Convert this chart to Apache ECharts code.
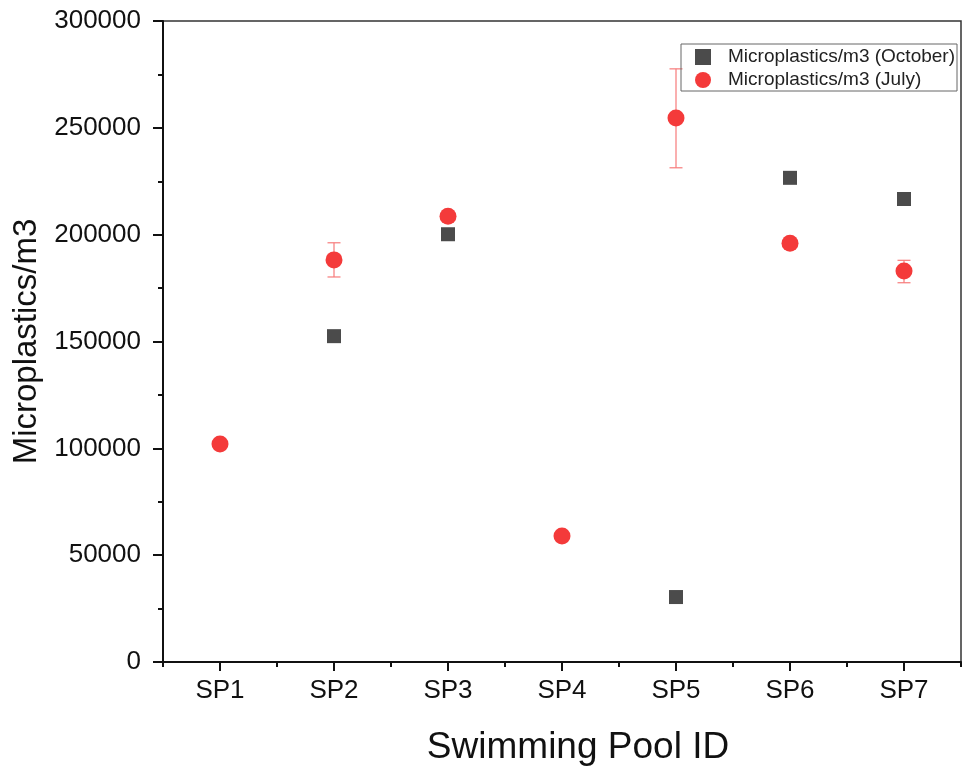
<!DOCTYPE html>
<html>
<head>
<meta charset="utf-8">
<script src="https://cdn.jsdelivr.net/npm/echarts@6/dist/echarts.min.js"></script>
<style>
  html, body { margin: 0; padding: 0; background: #fff; }
  #chart { width: 964px; height: 769px; }
</style>
</head>
<body>
<div id="chart"></div>
<script>
// Sampling sites
const pools = ['SP1', 'SP2', 'SP3', 'SP4', 'SP5', 'SP6', 'SP7'];

// Microplastic concentration per m3 (null = no October sample)
const october = [null, 152500, 200200, null, 30400, 226600, 216700];
const july = [102000, 188200, 208600, 59000, 254600, 196000, 183000];

// July spread: lower and upper error bar ends
const julyLow = [null, 180200, null, null, 231300, null, 177500];
const julyHigh = [null, 196200, null, null, 277600, null, 188000];

const yTicks = [0, 50000, 100000, 150000, 200000, 250000, 300000];

const octColor = '#4b4b4b';
const julColor = '#f43a3a';
const errColor = '#f77a7a';
const font = 'Liberation Sans, Arial, sans-serif';

const errData = [];
pools.forEach((p, i) => {
  if (julyLow[i] != null) errData.push([i, julyLow[i], julyHigh[i]]);
});

const chart = echarts.init(document.getElementById('chart'), null, { renderer: 'canvas' });

chart.setOption({
  animation: false,
  backgroundColor: '#fff',
  textStyle: { fontFamily: font },
  grid: {
    left: 163, right: 3, top: 21, bottom: 107,
    outerBoundsMode: 'none',
    containLabel: false,
    show: true, borderColor: '#333', borderWidth: 1.5, backgroundColor: 'transparent'
  },
  legend: {
    orient: 'vertical',
    right: 7, top: 44,
    itemGap: 3,
    itemWidth: 16, itemHeight: 16,
    padding: [3, 2, 1, 14],
    borderColor: '#666', borderWidth: 1,
    textStyle: { fontSize: 19, lineHeight: 20, color: '#222', fontFamily: font, padding: [0, 0, 0, 12] },
    data: [
      { name: 'Microplastics/m3 (October)', icon: 'rect', itemStyle: { color: octColor, opacity: 1 } },
      { name: 'Microplastics/m3 (July)', icon: 'circle', itemStyle: { color: julColor, opacity: 1 } }
    ]
  },
  xAxis: [
    {
      type: 'category',
      data: pools,
      boundaryGap: true,
      name: 'Swimming Pool ID',
      nameLocation: 'middle',
      nameGap: 67,
      nameTextStyle: { fontSize: 37, color: '#111', fontFamily: font, padding: [0, 0, 0, 32] },
      axisLine: { lineStyle: { color: '#111', width: 2 } },
      axisTick: { show: true, alignWithLabel: true, length: 9, inside: false, lineStyle: { color: '#111', width: 2 } },
      axisLabel: { fontSize: 26, color: '#111', margin: 16, fontFamily: font },
      splitLine: { show: false }
    },
    {
      type: 'category',
      data: pools,
      boundaryGap: true,
      position: 'bottom',
      axisLine: { show: false },
      axisTick: { show: true, length: 5, lineStyle: { color: '#111', width: 2 } },
      axisLabel: { show: false },
      splitLine: { show: false }
    }
  ],
  yAxis: {
    type: 'value',
    min: 0, max: 300000, interval: 50000,
    name: 'Microplastics/m3',
    nameLocation: 'middle',
    nameGap: 120,
    nameTextStyle: { fontSize: 33, color: '#111', fontFamily: font },
    axisLine: { show: true, lineStyle: { color: '#111', width: 2 } },
    axisTick: { show: true, length: 10, lineStyle: { color: '#111', width: 2 } },
    minorTick: { show: true, splitNumber: 2, length: 5, lineStyle: { color: '#111', width: 2 } },
    axisLabel: {
      fontSize: 26, color: '#111', margin: 22, fontFamily: font,
      formatter: v => (yTicks.indexOf(v) >= 0 ? String(v) : '')
    },
    splitLine: { show: false },
    minorSplitLine: { show: false }
  },
  series: [
    {
      name: 'July error',
      type: 'custom',
      xAxisIndex: 0,
      data: errData,
      z: 1,
      renderItem: function (params, api) {
        const x = api.value(0);
        const lo = api.coord([x, api.value(1)]);
        const hi = api.coord([x, api.value(2)]);
        const hw = 6.5;
        const style = { stroke: errColor, lineWidth: 1.2 };
        return {
          type: 'group',
          children: [
            { type: 'line', shape: { x1: hi[0], y1: hi[1], x2: lo[0], y2: lo[1] }, style },
            { type: 'line', shape: { x1: hi[0] - hw, y1: hi[1], x2: hi[0] + hw, y2: hi[1] }, style },
            { type: 'line', shape: { x1: lo[0] - hw, y1: lo[1], x2: lo[0] + hw, y2: lo[1] }, style }
          ]
        };
      }
    },
    {
      name: 'Microplastics/m3 (October)',
      type: 'scatter',
      xAxisIndex: 0,
      symbol: 'rect',
      symbolSize: 14,
      itemStyle: { color: octColor, opacity: 1 },
      data: october,
      z: 3
    },
    {
      name: 'Microplastics/m3 (July)',
      type: 'scatter',
      xAxisIndex: 0,
      symbol: 'circle',
      symbolSize: 17,
      itemStyle: { color: julColor, opacity: 1 },
      data: july,
      z: 4
    }
  ]
});
</script>
</body>
</html>
